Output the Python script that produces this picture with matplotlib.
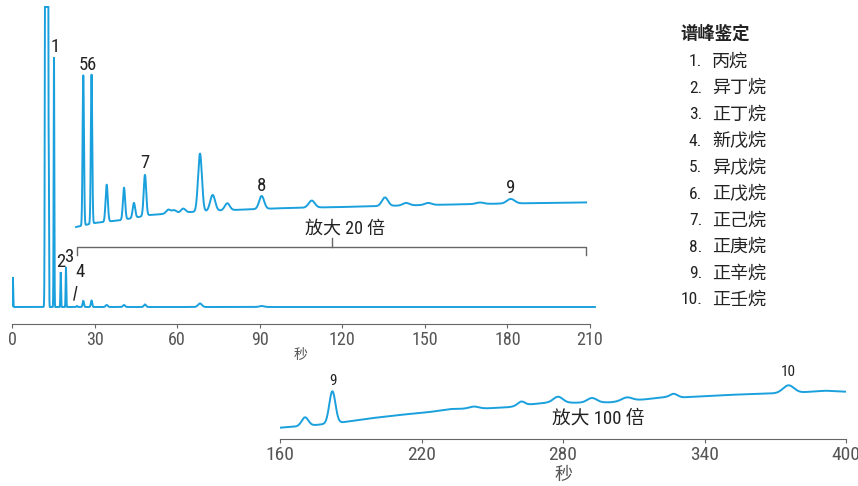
import numpy as np
import matplotlib.pyplot as plt

W, H = 858, 486
BLUE = '#1aa0dd'
GREY = '#666666'
NUM = ['Roboto Condensed', 'Archivo Narrow', 'Noto Sans CJK SC', 'DejaVu Sans']
CJK = ['Noto Sans CJK SC', 'DejaVu Sans']

# 1x trace: retention time (s), peak height, peak width (s)
main_rt = [0.3, 12.35, 12.95, 13.35, 15.25, 17.7, 19.6, 23.6, 25.9, 28.9, 34.4, 40.7, 48.3, 68.3, 90.7]
main_h = [30, 3000, 3000, 155, 250, 35, 40, 1, 6, 6.5, 2, 2, 2.5, 3.5, 1]
main_w = [0.12, 0.2, 0.12, 0.1, 0.12, 0.12, 0.12, 0.2, 0.25, 0.25, 0.4, 0.4, 0.4, 0.7, 0.9]

# 20x trace: baseline anchors and peaks
zoom_base_t = [23.3, 30, 40, 50, 65, 80, 100, 120, 150, 180, 211.8]
zoom_base_h = [80, 84, 87, 92, 95, 97, 99, 100, 102, 103.5, 104.7]
zoom_rt = [25.9, 28.9, 34.4, 40.7, 44.3, 48.3, 56.8, 58.9, 62.2, 68.3, 72.9, 78.2, 90.7,
           108.9, 135.5, 143.2, 151.2, 170.0, 181.2]
zoom_h = [150, 149, 37, 32, 15, 41, 4, 3, 4, 58, 16, 7, 13, 7, 8.5, 2.5, 2, 1.5, 4.5]
zoom_w = [0.25, 0.25, 0.4, 0.4, 0.45, 0.45, 0.8, 0.8, 0.8, 0.7, 0.9, 0.9, 0.9,
          1.1, 1.1, 1.2, 1.2, 1.4, 1.4]

# 100x trace (160-400 s)
big_base_t = [160, 175, 186.4, 198.4, 210.4, 222.5, 232.4, 247.9, 256.4, 266.3, 273.4,
              285.3, 300.1, 314.9, 322.7, 331.1, 348.8, 370, 381.3, 391.2, 400]
big_base_h = [11.6, 14.3, 17, 21, 24.3, 27, 30.3, 31, 32, 35, 36.6,
              36.6, 37, 40, 42, 42, 44.3, 46, 47, 48.6, 47.6]
big_rt = [170.6, 182.2, 242.2, 262.3, 277.9, 292.3, 307.1, 326.9, 375.6]
big_h = [8.5, 32, 2, 4, 6, 4.5, 3.5, 3.5, 7.5]
big_w = [1.4, 1.3, 2.0, 1.5, 2.0, 2.0, 2.2, 1.6, 2.3]

main_ticks = [0, 30, 60, 90, 120, 150, 180, 210]
inset_ticks = [160, 220, 280, 340, 400]

peak_names = ['丙烷', '异丁烷', '正丁烷', '新戊烷', '异戊烷', '正戊烷', '正己烷', '正庚烷', '正辛烷', '正壬烷']


def trace(t, rt, h, w, base_t=None, base_h=None):
    y = np.zeros_like(t) if base_t is None else np.interp(t, base_t, base_h)
    for c, a, s in zip(rt, h, w):
        y = y + a * np.exp(-0.5 * ((t - c) / s) ** 2)
    return y


def px_ax(fig, left, top, right, bottom):
    return fig.add_axes([left / W, 1 - bottom / H, (right - left) / W, (bottom - top) / H])


fig = plt.figure(figsize=(W / 100, H / 100), dpi=100)

# ---- main chromatogram
ax = px_ax(fig, 12, 5, 595.5, 324)
ax.set_xlim(0, 212)
ax.set_ylim(-17, 302)

t1 = np.arange(0.0, 211.8, 0.01)
y1 = np.minimum(trace(t1, main_rt, main_h, main_w), 300)
ax.plot(t1, y1, color=BLUE, lw=1.4, solid_joinstyle='miter')

t2 = np.arange(23.3, 208.6, 0.02)
y2 = trace(t2, zoom_rt, zoom_h, zoom_w, zoom_base_t, zoom_base_h)
ax.plot(t2, y2, color=BLUE, lw=1.4)

# bracket for the 20x trace
ax.plot([23.6, 23.6, 208.6, 208.6], [52, 60.3, 60.3, 52], color=GREY, lw=1)
ax.plot([116.2, 116.2], [60.3, 69], color=GREY, lw=1)
ax.text(121, 78, '放大 20 倍', family=NUM, fontsize=13,
        color='#222222', ha='center', va='center')

labels = [('1', 15.6, 260), ('5', 25.9, 242), ('6', 29.0, 242), ('7', 48.3, 144),
          ('8', 90.7, 121), ('9', 181.2, 118.7), ('2', 17.7, 45.3), ('3', 20.7, 50),
          ('4', 24.7, 35)]
for s, x, y in labels:
    ax.text(x, y, s, family=NUM, fontsize=13.5, color='#222222',
            ha='center', va='center')
ax.plot([22.5, 23.5], [7, 20.3], color='#222222', lw=1)

for side in ['top', 'right', 'left']:
    ax.spines[side].set_visible(False)
ax.spines['bottom'].set_bounds(0, 210)
ax.spines['bottom'].set_color(GREY)
ax.set_yticks([])
ax.set_xticks(main_ticks)
ax.tick_params(axis='x', length=3, color=GREY, labelcolor='#555555', labelsize=13, pad=2)
for lab in ax.get_xticklabels():
    lab.set_family(NUM)
ax.text(105, -48, '秒', family=CJK, fontsize=10, color='#555555', ha='center', va='center')

# ---- 100x inset
ax2 = px_ax(fig, 280, 369.3, 846, 439.3)
ax2.set_xlim(160, 400)
ax2.set_ylim(0, 70)
t3 = np.arange(160, 400.01, 0.05)
y3 = trace(t3, big_rt, big_h, big_w, big_base_t, big_base_h)
ax2.plot(t3, y3, color=BLUE, lw=1.4)
ax2.text(182.6, 58.6, '9', family=NUM, fontsize=11,
         color='#222222', ha='center', va='center')
ax2.text(375.6, 67, '10', family=NUM, fontsize=11,
         color='#222222', ha='center', va='center', clip_on=False)
ax2.text(295, 21, '放大 100 倍', family=NUM, fontsize=13.5,
         color='#222222', ha='center', va='center')
for side in ['top', 'right', 'left']:
    ax2.spines[side].set_visible(False)
ax2.spines['bottom'].set_color(GREY)
ax2.set_yticks([])
ax2.set_xticks(inset_ticks)
ax2.tick_params(axis='x', length=3, color=GREY, labelcolor='#555555', labelsize=14, pad=2)
for lab in ax2.get_xticklabels():
    lab.set_family(NUM)
ax2.text(280, -36, '秒', family=CJK, fontsize=13, color='#555555', ha='center', va='center')

# ---- peak legend
fig.text(680 / W, 1 - 34 / H, '谱峰鉴定', family=CJK, fontsize=12.5, fontweight='bold',
         color='#222222', ha='left', va='center')
for i, name in enumerate(peak_names):
    yy = 1 - (61.5 + i * 26.5) / H
    fig.text(702 / W, yy, f'{i + 1}.', family=NUM, fontsize=12.5,
             color='#222222', ha='right', va='center')
    fig.text(712 / W, yy, name, family=CJK, fontsize=13, color='#222222',
             ha='left', va='center')

fig.savefig('out.png', dpi=100)
